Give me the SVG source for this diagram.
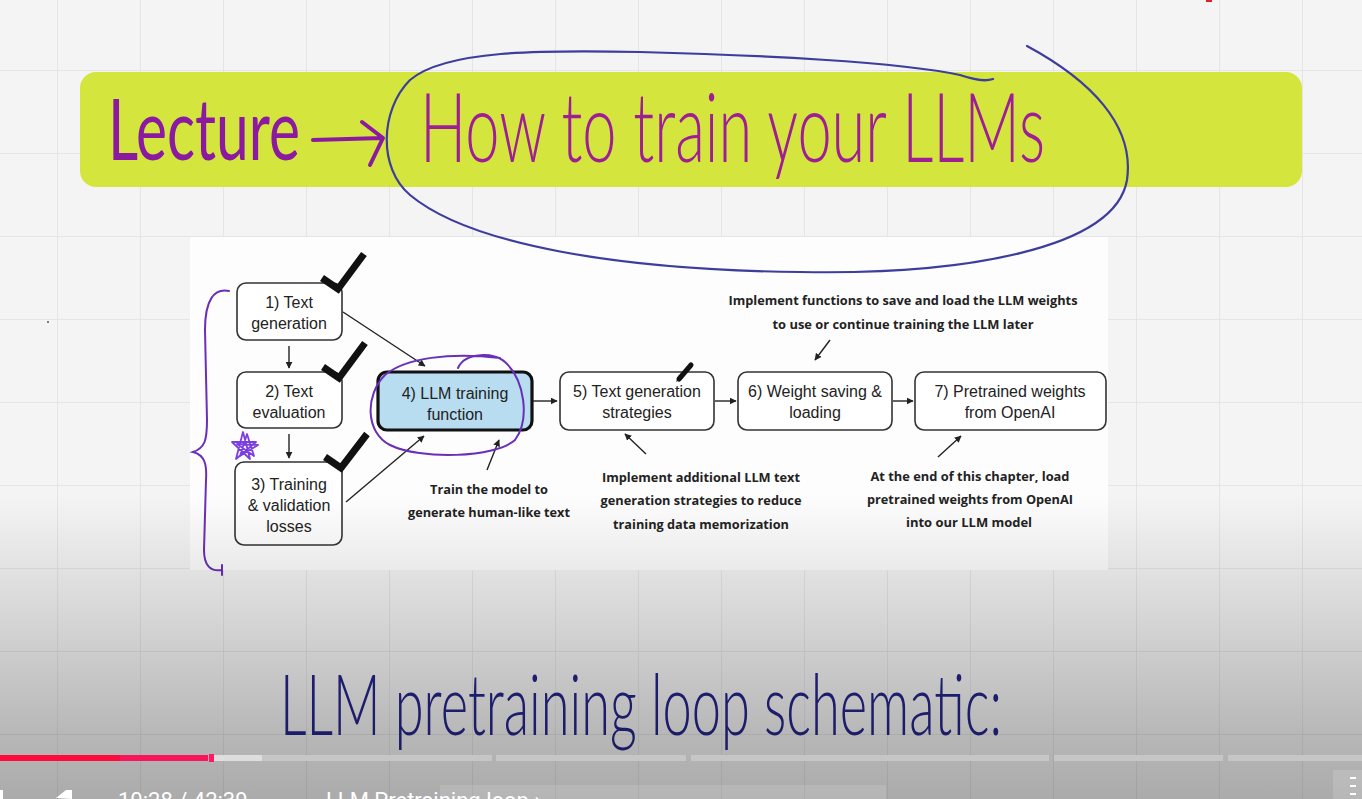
<svg xmlns="http://www.w3.org/2000/svg" width="1362" height="799" viewBox="0 0 1362 799">
<defs>
<linearGradient id="shade" x1="0" y1="0" x2="0" y2="1">
<stop offset="0" stop-color="#000" stop-opacity="0"/>
<stop offset="0.62" stop-color="#000" stop-opacity="0"/>
<stop offset="0.78" stop-color="#000" stop-opacity="0.13"/>
<stop offset="0.92" stop-color="#000" stop-opacity="0.25"/>
<stop offset="1" stop-color="#000" stop-opacity="0.3"/>
</linearGradient>
<pattern id="grid" x="57" y="-13" width="83" height="83" patternUnits="userSpaceOnUse">
<path d="M0,0 V83 M0,0 H83" stroke="#e1e1e1" stroke-width="1.6" fill="none"/>
</pattern>
<marker id="ah" viewBox="0 0 10 10" refX="9" refY="5" markerWidth="7" markerHeight="7" orient="auto" markerUnits="userSpaceOnUse">
<path d="M0,0 L10,5 L0,10 Z" fill="#222"/>
</marker>
</defs>
<style>
.node rect{fill:#fff;stroke:#333;stroke-width:1.6}
.lbl{font-family:"Liberation Sans",Arial,sans-serif;font-size:16px;fill:#222;text-anchor:middle}
.note{font-family:"Open Sans","Liberation Sans",sans-serif;font-weight:700;font-size:13px;fill:#222;text-anchor:middle}
.conn line,.conn path{stroke:#222;stroke-width:1.4;fill:none}
.check{fill:none;stroke:#111;stroke-width:7}
.hand{font-family:"Lato","DejaVu Sans",sans-serif;font-weight:300}
</style>
<rect x="0" y="0" width="1362" height="799" fill="#f4f4f4"/>
<rect x="0" y="0" width="1362" height="799" fill="url(#grid)"/>
<rect x="1206" y="0" width="6" height="2" fill="#e0202a"/>
<circle cx="48" cy="322" r="1" fill="#555"/>

<!-- banner -->
<g id="banner">
<rect x="80" y="72" width="1222" height="115" rx="16" fill="#d4e63d"/>
<text class="hand" x="108" y="160" font-size="86" fill="#8b1aa0" style="font-weight:400" textLength="192" lengthAdjust="spacingAndGlyphs">Lecture</text>
<path d="M313,140 L382,138 M362,122 L383,138 L370,165" fill="none" stroke="#8b1aa0" stroke-width="4" stroke-linecap="round" stroke-linejoin="round"/>
<text class="hand" x="420" y="162" font-size="96" fill="#a01e95" textLength="625" lengthAdjust="spacingAndGlyphs">How to train your LLMs</text>
</g>

<!-- panel -->
<rect x="190" y="237" width="918" height="333" fill="#fdfdfd"/>

<path id="title-circle" d="M1027,46 C1090,80 1135,125 1127,180 C1115,250 960,275 800,272 C620,270 470,245 410,195 C378,168 380,110 410,80 C445,50 540,50 640,52 C760,55 900,62 960,75 C975,80 985,82 993,79" fill="none" stroke="#3d3d9e" stroke-width="2.2" stroke-linecap="round"/>

<g id="connectors" class="conn">
<line x1="289" y1="346" x2="289" y2="368" marker-end="url(#ah)"/>
<line x1="289" y1="434" x2="289" y2="458" marker-end="url(#ah)"/>
<line x1="343" y1="312" x2="425" y2="366" marker-end="url(#ah)"/>
<line x1="346" y1="502" x2="424" y2="436" marker-end="url(#ah)"/>
<line x1="533" y1="401" x2="557" y2="401" marker-end="url(#ah)"/>
<line x1="715" y1="401" x2="736" y2="401" marker-end="url(#ah)"/>
<line x1="893" y1="401" x2="913" y2="401" marker-end="url(#ah)"/>
<line x1="830" y1="340" x2="815" y2="360" marker-end="url(#ah)"/>
<line x1="487" y1="470" x2="499" y2="440" marker-end="url(#ah)"/>
<line x1="646" y1="454" x2="625" y2="434" marker-end="url(#ah)"/>
<line x1="938" y1="457" x2="961" y2="436" marker-end="url(#ah)"/>
</g>

<g id="n1" class="node"><rect x="237" y="283" width="105" height="57" rx="9"/>
<text class="lbl" x="289" y="308">1) Text</text><text class="lbl" x="289" y="329">generation</text></g>
<g id="n2" class="node"><rect x="237" y="372" width="105" height="56" rx="9"/>
<text class="lbl" x="289" y="397">2) Text</text><text class="lbl" x="289" y="418">evaluation</text></g>
<g id="n3" class="node"><rect x="235" y="462" width="107" height="83" rx="9"/>
<text class="lbl" x="289" y="490">3) Training</text><text class="lbl" x="289" y="511">&amp; validation</text><text class="lbl" x="289" y="532">losses</text></g>
<g id="n4" class="node"><rect x="378" y="372" width="154" height="58" rx="9" style="fill:#b8ddf0;stroke:#111;stroke-width:3.2"/>
<text class="lbl" x="455" y="399">4) LLM training</text><text class="lbl" x="455" y="420">function</text></g>
<g id="n5" class="node"><rect x="560" y="372" width="154" height="58" rx="9"/>
<text class="lbl" x="637" y="397">5) Text generation</text><text class="lbl" x="637" y="418">strategies</text></g>
<g id="n6" class="node"><rect x="738" y="372" width="154" height="58" rx="9"/>
<text class="lbl" x="815" y="397">6) Weight saving &amp;</text><text class="lbl" x="815" y="418">loading</text></g>
<g id="n7" class="node"><rect x="915" y="372" width="191" height="58" rx="9"/>
<text class="lbl" x="1010" y="397">7) Pretrained weights</text><text class="lbl" x="1010" y="418">from OpenAI</text></g>

<g id="notes">
<text class="note" x="903" y="305" textLength="349" lengthAdjust="spacingAndGlyphs">Implement functions to save and load the LLM weights</text>
<text class="note" x="903" y="329" textLength="261" lengthAdjust="spacingAndGlyphs">to use or continue training the LLM later</text>
<text class="note" x="489" y="494" textLength="118" lengthAdjust="spacingAndGlyphs">Train the model to</text>
<text class="note" x="489" y="517" textLength="162" lengthAdjust="spacingAndGlyphs">generate human-like text</text>
<text class="note" x="701" y="482" textLength="198" lengthAdjust="spacingAndGlyphs">Implement additional LLM text</text>
<text class="note" x="701" y="505" textLength="201" lengthAdjust="spacingAndGlyphs">generation strategies to reduce</text>
<text class="note" x="701" y="529" textLength="176" lengthAdjust="spacingAndGlyphs">training data memorization</text>
<text class="note" x="970" y="481" textLength="199" lengthAdjust="spacingAndGlyphs">At the end of this chapter, load</text>
<text class="note" x="970" y="504" textLength="206" lengthAdjust="spacingAndGlyphs">pretrained weights from OpenAI</text>
<text class="note" x="969" y="527" textLength="126" lengthAdjust="spacingAndGlyphs">into our LLM model</text>
</g>

<g id="marks">
<polyline class="check" points="322,278 338,289 364,254"/>
<polyline class="check" points="323,367 339,378 365,343"/>
<polyline class="check" points="325,457 341,468 367,434"/>
<path d="M679,379 L691,365" stroke="#111" stroke-width="5" stroke-linecap="round"/>
<path d="M676,382 L679,375 L683,378 Z" fill="#111"/>
<path d="M458,368 C465,352 495,352 505,362 C525,380 530,420 515,440 C495,458 420,460 390,445 C365,432 365,395 385,375 C405,358 450,352 500,358" fill="none" stroke="#6a2fb8" stroke-width="2" stroke-linecap="round"/>
<path d="M229,291 C214,288 205,300 205,330 L207,420 C207,440 205,448 193,452 C205,455 207,465 206,480 L204,550 C204,565 210,572 222,570 M222,565 L222,575" fill="none" stroke="#6a2fb8" stroke-width="2" stroke-linecap="round"/>
<path d="M236,459 L243,432 L250,459 L232,442 L256,442 Z M240,456 L247,434 L254,456 L237,444 L258,445 Z" fill="none" stroke="#7b3fe0" stroke-width="1.8" stroke-linejoin="round"/>
</g>

<text class="hand" x="280" y="735" font-size="84" fill="#25258a" style="font-weight:300" textLength="722" lengthAdjust="spacingAndGlyphs">LLM pretraining loop schematic:</text>

<rect x="0" y="0" width="1362" height="799" fill="url(#shade)"/>

<g id="player">
<rect x="0" y="755" width="208" height="6" fill="#ff0a3c"/>
<rect x="120" y="755" width="88" height="6" fill="#f51d6e" opacity="0.6"/>
<rect x="209" y="754" width="5" height="8" fill="#ff1a66"/>
<rect x="214" y="755" width="48" height="6" fill="#dedede"/>
<rect x="262" y="755" width="230" height="6" fill="#c6c6c6"/>
<rect x="496" y="755" width="190" height="6" fill="#c6c6c6"/>
<rect x="691" y="755" width="358" height="6" fill="#c6c6c6"/>
<rect x="1054" y="755" width="169" height="6" fill="#c6c6c6"/>
<rect x="1228" y="755" width="134" height="6" fill="#c6c6c6"/>
<rect x="440" y="785" width="446" height="14" fill="#ffffff" opacity="0.12"/>
<rect x="1333" y="770" width="29" height="29" fill="#ffffff" opacity="0.15"/>
<path d="M1350,778 h6 M1350,786 h6 M1350,794 h6" stroke="#fff" stroke-width="2"/>
<path d="M56,798 L66,790 L72,790 L72,799 Z" fill="#fff"/>
<rect x="0" y="790" width="3" height="9" fill="#fff"/>
<text x="118" y="808" font-family="Roboto,'Liberation Sans',sans-serif" font-size="22" fill="#ffffff">10:28 / 42:39</text>
<text x="326" y="808" font-family="Roboto,'Liberation Sans',sans-serif" font-size="22" fill="#ffffff">LLM Pretraining loop ›</text>
</g>
</svg>
